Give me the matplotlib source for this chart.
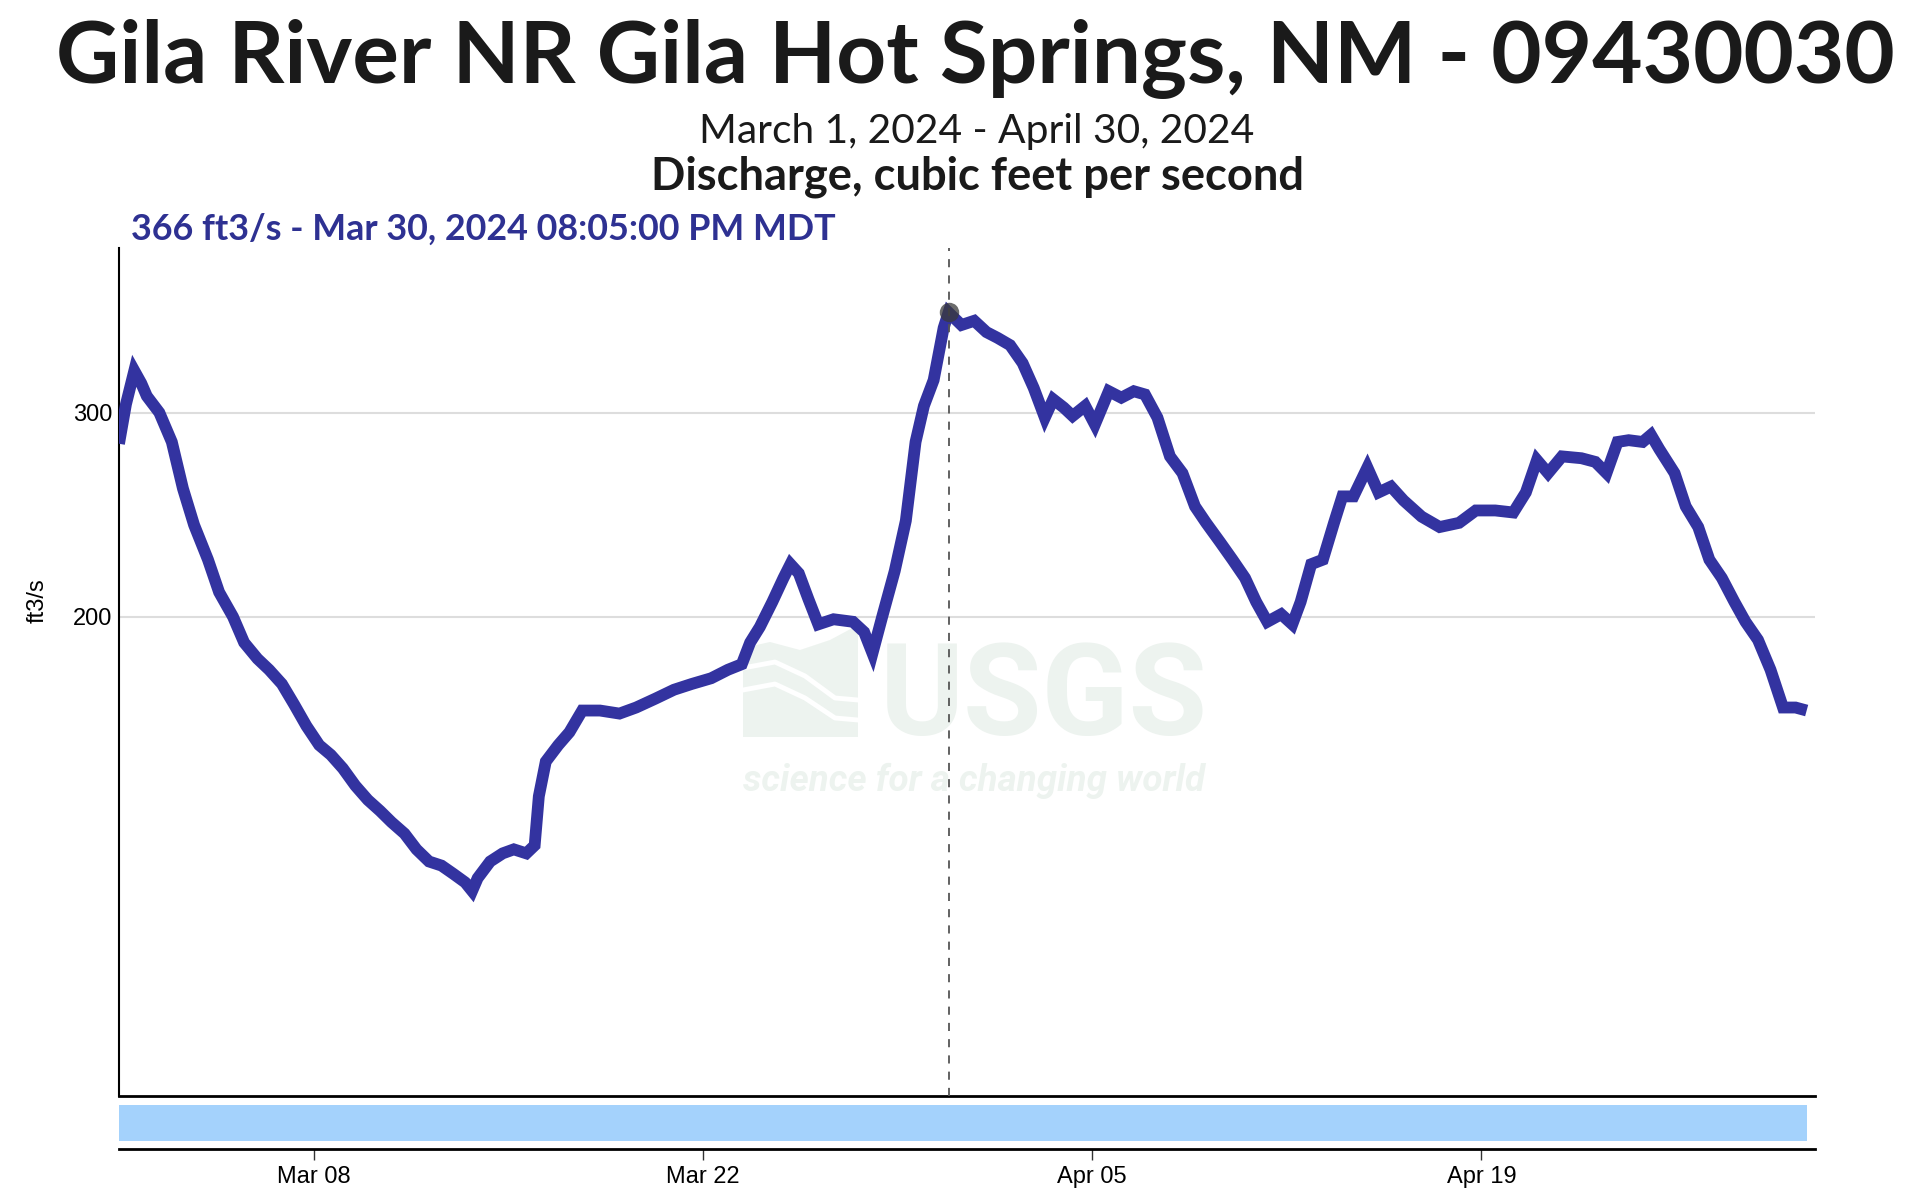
import numpy as np
import pandas as pd
import matplotlib
matplotlib.use("Agg")
import matplotlib.pyplot as plt
import matplotlib.dates as mdates
from matplotlib.patches import Polygon

# ----------------------------
# Data (day offset from Mar 1 00:00, discharge ft3/s)
# ----------------------------
day_offset = [
    0.0, 0.25, 0.55, 0.8, 1.0, 1.45, 1.9, 2.3, 2.7, 3.2, 3.6, 4.1, 4.5, 4.98,
    5.4, 5.86, 6.3, 6.74, 7.2, 7.62, 8.05, 8.5, 8.95, 9.39, 9.8, 10.27, 10.7,
    11.15, 11.6, 12.03, 12.45, 12.7, 12.9, 13.35, 13.8, 14.2, 14.65, 14.95,
    15.1, 15.35, 15.8, 16.2, 16.66, 17.3, 18.0, 18.6, 19.3, 19.96, 20.6, 21.3,
    21.9, 22.4, 22.7, 23.05, 23.5, 23.9, 24.15, 24.45, 24.8, 25.15, 25.7,
    26.4, 26.8, 27.1, 27.45, 27.9, 28.3, 28.65, 28.95, 29.3, 29.66, 29.837,
    30.3, 30.76, 31.2, 31.6, 32.05, 32.5, 32.9, 33.3, 33.6, 33.98, 34.3,
    34.75, 35.1, 35.6, 36.05, 36.5, 36.9, 37.35, 37.8, 38.25, 38.7, 39.1,
    39.6, 40.05, 40.5, 40.9, 41.3, 41.8, 42.2, 42.5, 42.88, 43.3, 43.7, 44.0,
    44.4, 44.9, 45.3, 45.75, 46.2, 46.85, 47.5, 48.2, 48.8, 49.5, 50.15,
    50.6, 51.0, 51.4, 51.9, 52.6, 53.1, 53.5, 53.9, 54.3, 54.8, 55.1, 55.4,
    55.95, 56.35, 56.8, 57.2, 57.65, 58.1, 58.5, 58.95, 59.4, 59.85, 60.3,
    60.7,
]
discharge = [
    282, 305, 326, 318, 310, 300, 283, 258, 240, 224, 210, 200, 190, 184,
    180, 175, 168, 161, 155, 152, 148, 143, 139, 136, 133, 130, 126,
    123, 122, 120, 118, 116, 119, 123, 125, 126, 125, 127,
    140, 150, 155, 159, 166, 166, 165, 167, 170, 173, 175, 177,
    180, 182, 190, 196, 206, 216, 222, 218, 207, 197, 199,
    198, 194, 186, 200, 219, 242, 283, 304, 320, 355, 366,
    357, 360, 352, 348, 343, 331, 315, 297, 308, 303, 298,
    304, 293, 313, 309, 313, 311, 297, 275, 266, 249, 241,
    232, 224, 216, 206, 198, 201, 197, 206, 222, 224, 241, 254,
    254, 269, 256, 259, 252, 244, 239, 241, 247, 247, 246,
    256, 273, 266, 275, 274, 272, 266, 283, 284, 283, 287, 279,
    266, 249, 239, 224, 216, 206, 198, 191, 180, 167, 167,
    166,
]
start = pd.Timestamp("2024-03-01 00:00")
end = pd.Timestamp("2024-05-01 00:00")
times = start + pd.to_timedelta(day_offset, unit="D")

peak_time = pd.Timestamp("2024-03-30 20:05")
peak_value = 366
y_ticks = [200, 300]
x_ticks = ["2024-03-08", "2024-03-22", "2024-04-05", "2024-04-19"]

title = "Gila River NR Gila Hot Springs, NM - 09430030"
subtitle = "March 1, 2024 - April 30, 2024"
param_label = "Discharge, cubic feet per second"
reading_label = "366 ft3/s - Mar 30, 2024 08:05:00 PM MDT"

# ----------------------------
# Figure layout (pixel based, 1920x1197 at dpi 100)
# ----------------------------
W, H = 1920, 1197
fig = plt.figure(figsize=(W / 100, H / 100), dpi=100)

ax_l, ax_r, ax_t, ax_b = 119, 1815, 248, 1096
ax = fig.add_axes([ax_l / W, 1 - ax_b / H, (ax_r - ax_l) / W, (ax_b - ax_t) / H])

br_t, br_b = 1103, 1149
bx = fig.add_axes([ax_l / W, 1 - br_b / H, (ax_r - ax_l) / W, (br_b - br_t) / H])

tick_font = ["Liberation Sans", "DejaVu Sans"]
head_font = ["Lato", "DejaVu Sans"]
wm_font = ["Roboto", "DejaVu Sans"]
line_color = "#3333a0"
wm_color = "#edf3ef"

# ----------------------------
# Main chart
# ----------------------------
ax.set_yscale("log")
ax.set_ylim(77.2, 416)
ax.set_xlim(start, end)

ax.plot(times, discharge, color=line_color, lw=8.5, solid_joinstyle="miter",
        solid_capstyle="butt", zorder=3)

for v in y_ticks:
    ax.axhline(v, color="#dddddd", lw=1.5, zorder=1)

ax.axvline(peak_time, color="#555555", lw=1.3, ls=(0, (4.5, 4.5)), zorder=4)
ax.plot([peak_time], [peak_value], "o", ms=14, color="#3a3a3a", alpha=0.75,
        mec="none", zorder=5)

ax.set_yticks(y_ticks)
ax.set_yticklabels([str(v) for v in y_ticks])
ax.yaxis.set_minor_locator(matplotlib.ticker.NullLocator())
ax.tick_params(axis="y", length=0, pad=5, labelsize=17)
ax.set_xticks([])
for lab in ax.get_yticklabels():
    lab.set_fontfamily(tick_font)

ax.set_ylabel("ft3/s", fontsize=17, family=tick_font)
ax.yaxis.set_label_coords((49 - ax_l) / (ax_r - ax_l), (ax_b - 601) / (ax_b - ax_t))

for s in ["top", "right"]:
    ax.spines[s].set_visible(False)
ax.spines["left"].set_linewidth(1.5)
ax.spines["bottom"].set_linewidth(2)

# USGS watermark (behind the data)
def px(xp, yp):
    return ((xp - ax_l) / (ax_r - ax_l), (ax_b - yp) / (ax_b - ax_t))

logo = [px(743, 737), px(858, 737), px(858, 625), px(830, 640),
        px(800, 650), px(770, 642), px(743, 648)]
ax.add_patch(Polygon(logo, closed=True, transform=ax.transAxes,
                     color=wm_color, zorder=0, lw=0))
for wave in ([(743, 668), (775, 662), (805, 676), (835, 698), (858, 700)],
             [(743, 690), (775, 684), (805, 698), (835, 718), (858, 720)]):
    pts = [px(a, b) for a, b in wave]
    ax.plot([p[0] for p in pts], [p[1] for p in pts], transform=ax.transAxes,
            color="white", lw=3.5, zorder=0.5)

usgs_txt = ax.text(*px(880, 735), "USGS", transform=ax.transAxes,
                   family=wm_font, weight="bold",
                   fontsize=90, color=wm_color, va="baseline", ha="left", zorder=0)
sci_txt = ax.text(*px(743, 784), "science for a changing world",
                  transform=ax.transAxes, family=wm_font,
                  weight="bold", style="italic", fontsize=30, color=wm_color,
                  va="baseline", ha="left", zorder=0)

# ----------------------------
# Brush / overview strip
# ----------------------------
bx.set_xlim(start, end)
bx.set_ylim(0, 1)
bx.axvspan(times[0], times[-1], ymin=(br_b - 1141) / (br_b - br_t),
           ymax=(br_b - 1105) / (br_b - br_t), color="#a4d2fc", lw=0)
bx.set_yticks([])
bx.set_xticks(pd.to_datetime(x_ticks))
bx.xaxis.set_major_formatter(mdates.DateFormatter("%b %d"))
bx.tick_params(axis="x", length=8, width=1, color="#333333", pad=4, labelsize=17)
for lab in bx.get_xticklabels():
    lab.set_fontfamily(tick_font)
for s in ["top", "right", "left"]:
    bx.spines[s].set_visible(False)
bx.spines["bottom"].set_linewidth(2)

# ----------------------------
# Titles
# ----------------------------
t1 = fig.text(975 / W, 1 - 83 / H, title, ha="center", va="baseline",
              family=head_font, weight="bold", fontsize=60, color="#1a1a1a")
t2 = fig.text(977 / W, 1 - 143 / H, subtitle, ha="center", va="baseline",
              family=head_font, fontsize=26, color="#1a1a1a")
t3 = fig.text(977 / W, 1 - 190 / H, param_label, ha="center", va="baseline",
              family=head_font, weight="bold", fontsize=26, color="#1a1a1a")
t4 = fig.text(131 / W, 1 - 240 / H, reading_label, ha="left", va="baseline",
              family=head_font, weight="bold", fontsize=22, color="#2e3192")

# scale each text so its width matches the reference
fig.canvas.draw()
renderer = fig.canvas.get_renderer()
for t, target in [(t1, 1841), (t2, 556), (t3, 654), (t4, 704),
                  (usgs_txt, 328), (sci_txt, 462)]:
    w = t.get_window_extent(renderer).width
    t.set_fontsize(t.get_fontsize() * target / w)

# keep the tagline just clear of the big watermark letters
fig.canvas.draw()
gap = sci_txt.get_window_extent(renderer).y1 - usgs_txt.get_window_extent(renderer).y0
if gap > -1:
    sx, sy = sci_txt.get_position()
    sci_txt.set_position((sx, sy - (gap + 2) / (ax_b - ax_t)))

fig.savefig("out.png", dpi=100, facecolor="white")
